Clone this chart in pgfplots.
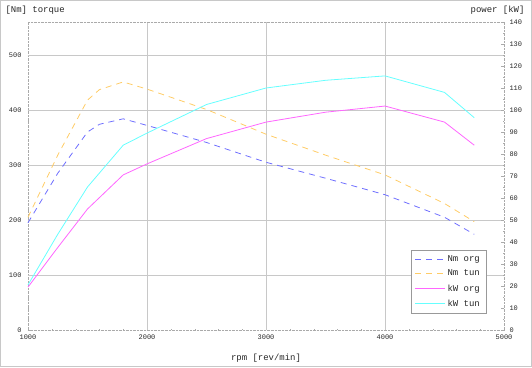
\documentclass[border=0pt]{standalone}
\usepackage{fontspec}
\setmainfont{Liberation Mono}
\setmonofont{Liberation Mono}
\usepackage{pgfplots}
\pgfplotsset{compat=1.18}
\definecolor{gridc}{RGB}{200,200,200}
\definecolor{axc}{RGB}{170,170,170}
\definecolor{nmorg}{RGB}{110,110,255}
\definecolor{nmtun}{RGB}{255,204,102}
\definecolor{kworg}{RGB}{255,102,255}
\definecolor{kwtun}{RGB}{102,255,255}
\definecolor{txt}{RGB}{40,40,40}
\pgfplotsset{
  common/.style={
    scale only axis, width=476bp, height=308bp,
    at={(0,0)}, anchor=south west,
    xmin=1000, xmax=5000,
    axis line style={axc, densely dotted},
    tick style={axc, solid},
    major tick length=3bp, minor tick length=1.5bp,
    tick label style={font=\fontsize{7}{8}\selectfont, text=txt},
    /pgf/number format/assume math mode=true,
    /pgf/number format/set thousands separator={},
    clip=false,
  }
}
\begin{document}
\begin{tikzpicture}[x=1bp,y=1bp]
\draw[gridc] (-27.5,-36.5) rectangle (503.5,329.5);
\useasboundingbox (-28,-37) rectangle (504,330);
\begin{axis}[common,
  ymin=0, ymax=560,
  axis y line*=left, axis x line*=bottom,
  xtick={1000,2000,3000,4000,5000},
  minor x tick num=4,
  ytick={0,100,200,300,400,500},
  minor y tick num=4,
  yticklabel style={xshift=-3bp},
  xticklabel style={yshift=-1bp},
  extra x ticks={2000,3000,4000}, extra x tick labels={},
  extra x tick style={grid=major, major grid style={gridc, solid, line width=0.8pt}, major tick length=0pt},
  extra y ticks={100,200,300,400,500}, extra y tick labels={},
  extra y tick style={grid=major, major grid style={gridc, solid, line width=0.8pt}, major tick length=0pt},
  xlabel={rpm [rev/min]},
  xlabel style={font=\fontsize{9}{10}\selectfont, text=txt, at={(axis description cs:0.5,0)}, anchor=center, yshift=-28bp},
  ylabel={[Nm] torque},
  ylabel style={font=\fontsize{9}{10}\selectfont, text=txt, rotate=-90, at={(axis description cs:0,1)}, anchor=west, xshift=-26bp, yshift=12bp},
]
\draw[axc, densely dotted] (axis cs:1000,560) -- (axis cs:5000,560);
\addplot[nmorg, line width=0.8pt, dash pattern=on 6bp off 5bp] coordinates {
 (1000,195) (1250,285) (1500,360) (1600,374) (1800,384) (2000,372) (2500,341) (3000,305) (3500,276) (4000,246) (4500,205) (4750,174)};
\addplot[nmtun, line width=0.8pt, dash pattern=on 6bp off 5bp] coordinates {
 (1000,205) (1250,318) (1500,418) (1600,437) (1800,451) (2000,438) (2500,401) (3000,356) (3500,318) (4000,282) (4500,230) (4750,197)};
\end{axis}
\begin{axis}[common,
  ymin=0, ymax=140,
  axis y line*=right, axis x line=none,
  ytick={0,10,...,140},
  minor y tick num=1,
  yticklabel style={xshift=2bp},
  ylabel={power [kW]},
  ylabel style={font=\fontsize{9}{10}\selectfont, text=txt, rotate=-90, at={(axis description cs:1,1)}, anchor=east, xshift=24bp, yshift=12bp},
  legend style={at={(axis description cs:1,0)}, anchor=south east, xshift=-18bp, yshift=17bp,
    draw=gray!80, fill=white, font=\fontsize{9}{10}\selectfont, text=txt,
    row sep=3.2bp, inner xsep=4bp, inner ysep=3bp, cells={anchor=west}},
  legend image code/.code={\draw[#1] (0bp,0bp) -- (30bp,0bp);},
  legend cell align=left,
]
\addlegendimage{nmorg, line width=0.8pt, dash pattern=on 6bp off 5bp}
\addlegendentry{Nm org}
\addlegendimage{nmtun, line width=0.8pt, dash pattern=on 6bp off 5bp}
\addlegendentry{Nm tun}
\addplot[kworg, line width=0.8pt] coordinates {
 (1000,19.5) (1250,37.5) (1500,55) (1800,70.5) (2000,75.5) (2500,87) (3000,94.5) (3500,99) (4000,101.8) (4500,94.5) (4750,84)};
\addlegendentry{kW org}
\addplot[kwtun, line width=0.8pt] coordinates {
 (1000,20.5) (1250,43.5) (1500,65) (1800,84) (2000,89.5) (2500,102.5) (3000,110) (3500,113.5) (4000,115.5) (4500,108) (4750,96.5)};
\addlegendentry{kW tun}
\end{axis}
\end{tikzpicture}
\end{document}
